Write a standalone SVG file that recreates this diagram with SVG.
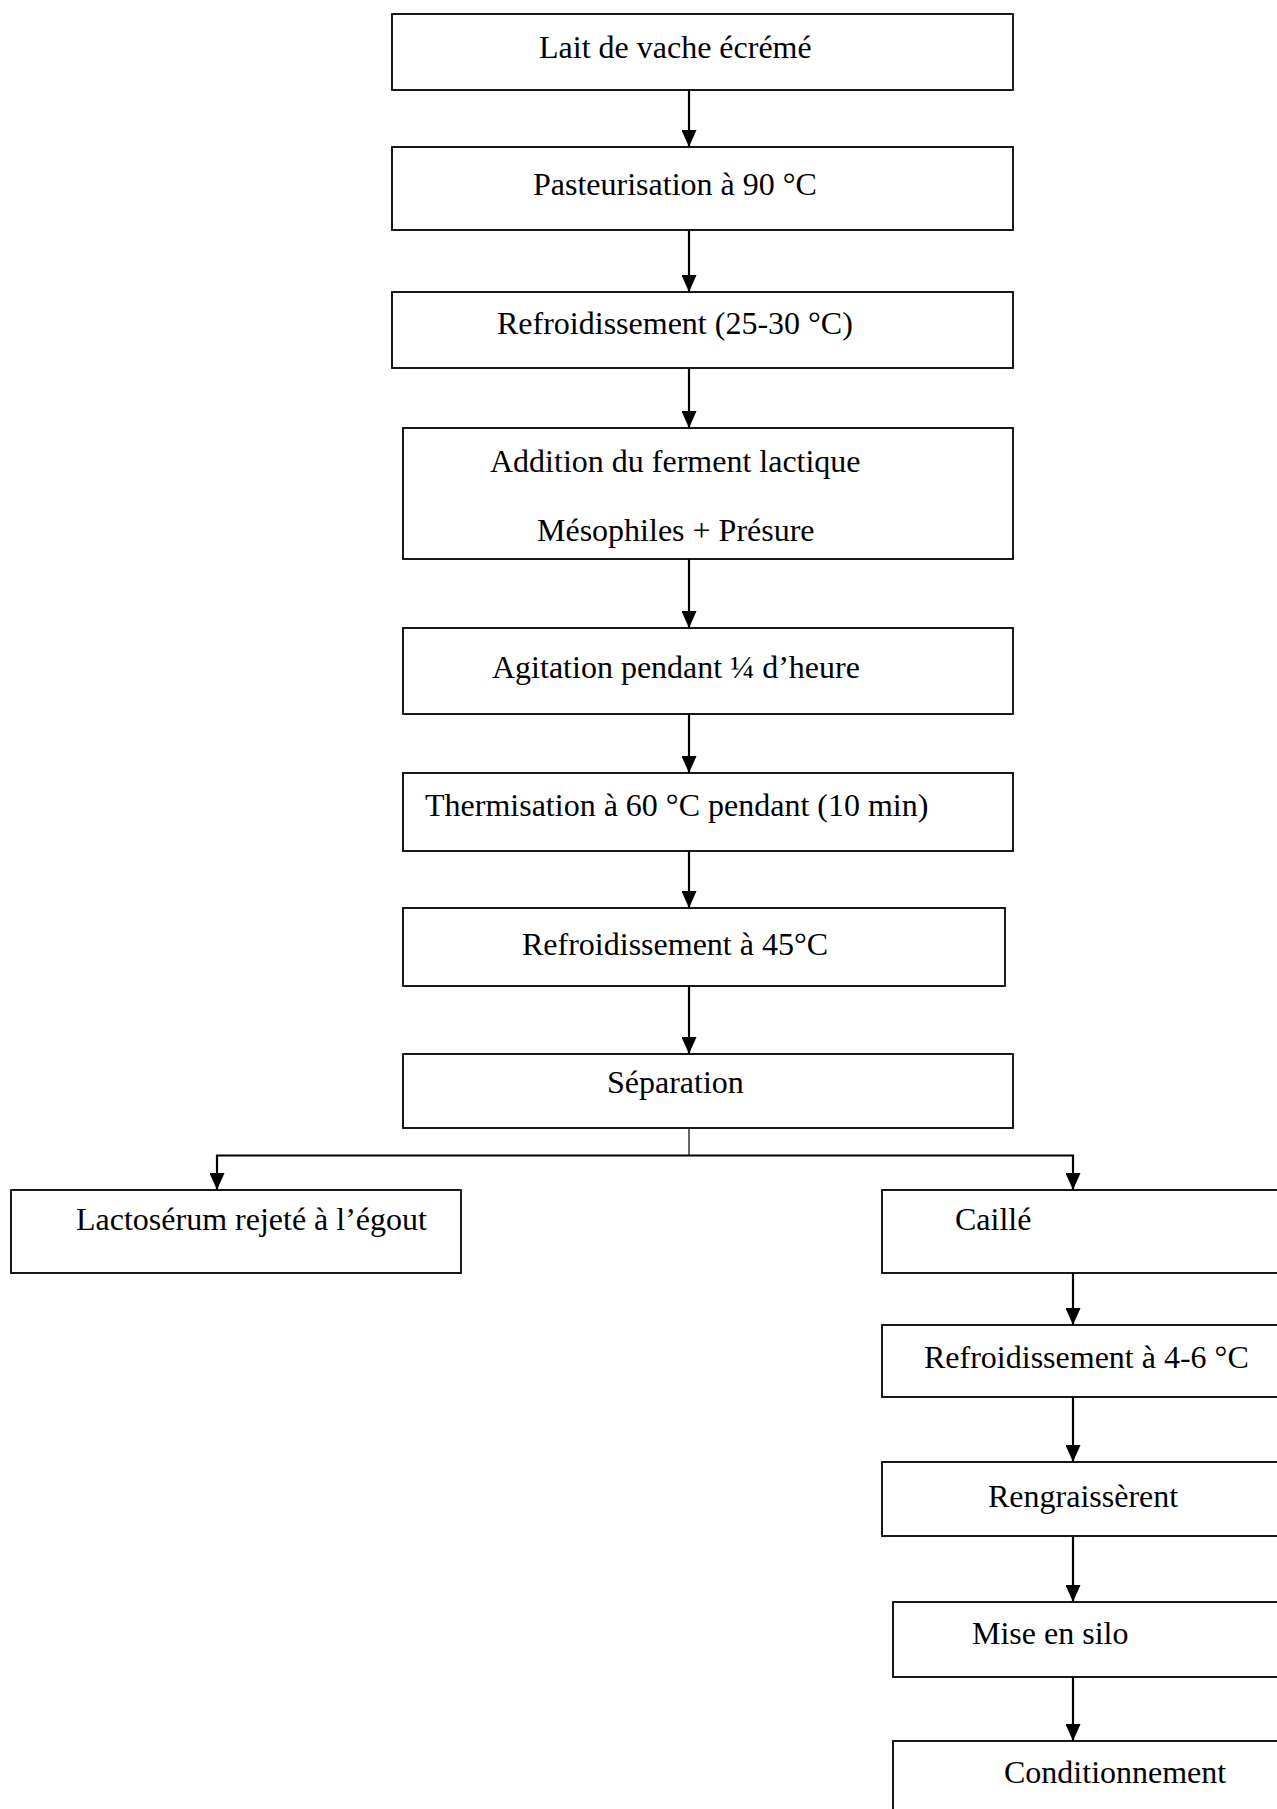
<svg xmlns="http://www.w3.org/2000/svg" width="1277" height="1809" viewBox="0 0 1277 1809">
<style>
.box{fill:#fff;stroke:#000;stroke-width:1.8}
.t{font-family:"Liberation Serif","Times New Roman",serif;font-size:32px;fill:#000}
.c{fill:none;stroke:#000;stroke-width:2.2}
.thin{fill:none;stroke:#000;stroke-width:1.2}
</style>
<defs>
<marker id="ah" markerUnits="userSpaceOnUse" markerWidth="17" markerHeight="15" refX="17" refY="7.5" orient="auto" viewBox="0 0 17 15">
<path d="M0,0 L17,7.5 L0,15 Z" fill="#000"/>
</marker>
</defs>
<rect width="1277" height="1809" fill="#fff"/>
<g id="connectors">
<line class="c" x1="689" y1="90" x2="689" y2="147" marker-end="url(#ah)"/>
<line class="c" x1="689" y1="230" x2="689" y2="292" marker-end="url(#ah)"/>
<line class="c" x1="689" y1="368" x2="689" y2="428" marker-end="url(#ah)"/>
<line class="c" x1="689" y1="559" x2="689" y2="628" marker-end="url(#ah)"/>
<line class="c" x1="689" y1="714" x2="689" y2="773" marker-end="url(#ah)"/>
<line class="c" x1="689" y1="851" x2="689" y2="908" marker-end="url(#ah)"/>
<line class="c" x1="689" y1="986" x2="689" y2="1054" marker-end="url(#ah)"/>
<line class="thin" x1="689" y1="1128" x2="689" y2="1155.5"/>
<polyline class="c" points="689,1155.5 217,1155.5 217,1190" marker-end="url(#ah)"/>
<polyline class="c" points="689,1155.5 1073,1155.5 1073,1190" marker-end="url(#ah)"/>
<line class="c" x1="1073" y1="1273" x2="1073" y2="1325" marker-end="url(#ah)"/>
<line class="c" x1="1073" y1="1397" x2="1073" y2="1462" marker-end="url(#ah)"/>
<line class="c" x1="1073" y1="1536" x2="1073" y2="1602" marker-end="url(#ah)"/>
<line class="c" x1="1073" y1="1677" x2="1073" y2="1741" marker-end="url(#ah)"/>
</g>
<g id="n1"><rect class="box" x="392" y="14" width="621" height="76"/><text class="t" x="539" y="58">Lait de vache écrémé</text></g>
<g id="n2"><rect class="box" x="392" y="147" width="621" height="83"/><text class="t" x="533" y="195">Pasteurisation à 90 °C</text></g>
<g id="n3"><rect class="box" x="392" y="292" width="621" height="76"/><text class="t" x="497" y="334">Refroidissement (25-30 °C)</text></g>
<g id="n4"><rect class="box" x="403" y="428" width="610" height="131"/><text class="t" x="490" y="472">Addition du ferment lactique</text><text class="t" x="537" y="541">Mésophiles + Présure</text></g>
<g id="n5"><rect class="box" x="403" y="628" width="610" height="86"/><text class="t" x="492" y="678">Agitation pendant ¼ d’heure</text></g>
<g id="n6"><rect class="box" x="403" y="773" width="610" height="78"/><text class="t" x="425" y="816">Thermisation à 60 °C pendant (10 min)</text></g>
<g id="n7"><rect class="box" x="403" y="908" width="602" height="78"/><text class="t" x="522" y="955">Refroidissement à 45°C</text></g>
<g id="n8"><rect class="box" x="403" y="1054" width="610" height="74"/><text class="t" x="607" y="1093">Séparation</text></g>
<g id="n9"><rect class="box" x="11" y="1190" width="450" height="83"/><text class="t" x="76" y="1230">Lactosérum rejeté à l’égout</text></g>
<g id="n10"><rect class="box" x="882" y="1190" width="420" height="83"/><text class="t" x="955" y="1230">Caillé</text></g>
<g id="n11"><rect class="box" x="882" y="1325" width="420" height="72"/><text class="t" x="924" y="1368">Refroidissement à 4-6 °C</text></g>
<g id="n12"><rect class="box" x="882" y="1462" width="420" height="74"/><text class="t" x="988" y="1507">Rengraissèrent</text></g>
<g id="n13"><rect class="box" x="893" y="1602" width="420" height="75"/><text class="t" x="972" y="1644">Mise en silo</text></g>
<g id="n14"><rect class="box" x="893" y="1741" width="420" height="100"/><text class="t" x="1004" y="1783">Conditionnement</text></g>
</svg>
